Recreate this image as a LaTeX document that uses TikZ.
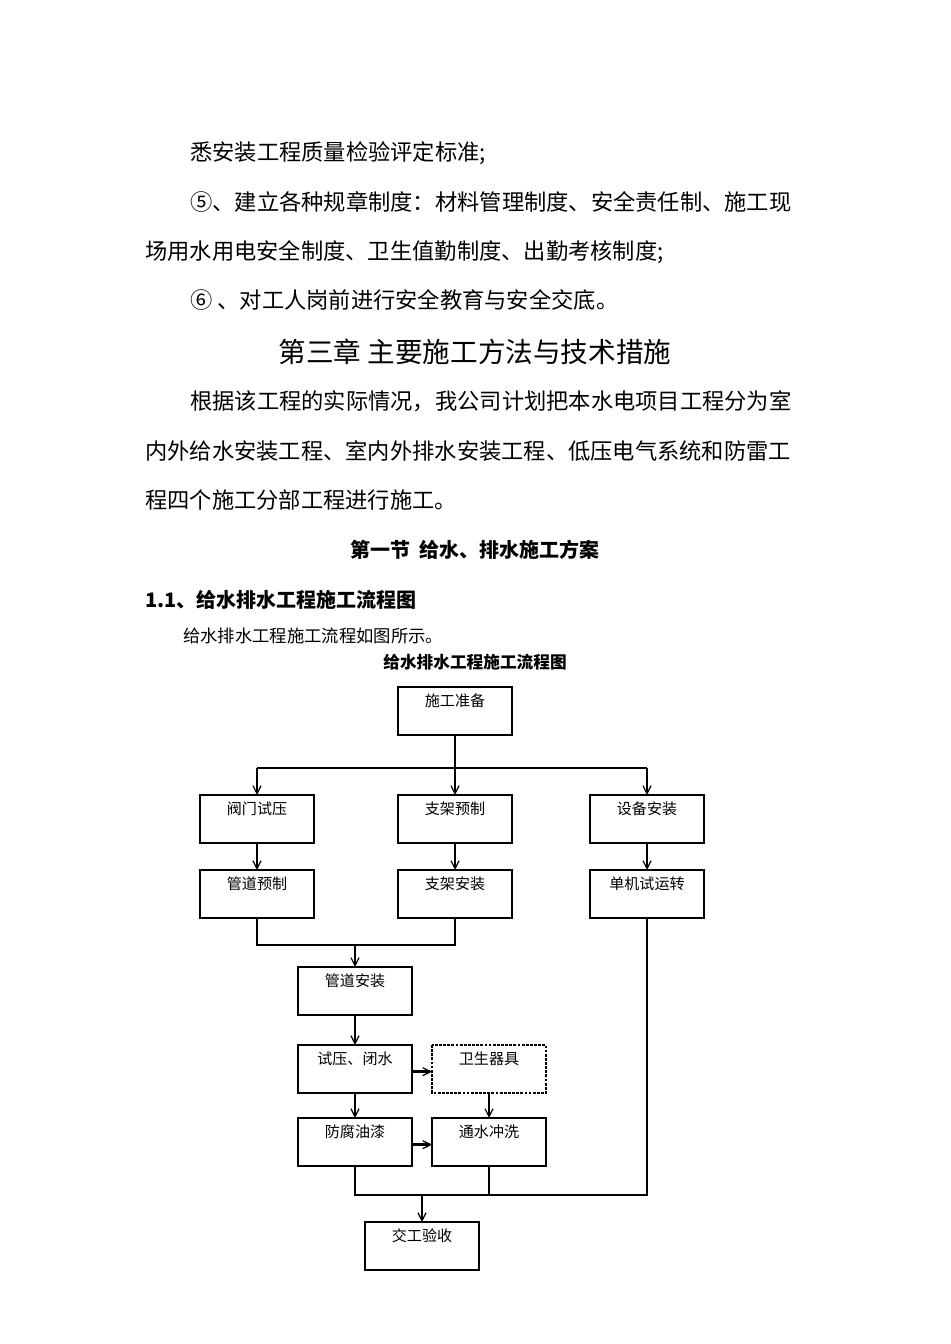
\documentclass[tikz,border=0pt]{standalone}
\usepackage{fontspec}
\newfontfamily\cjk{Noto Sans CJK SC}
\usetikzlibrary{arrows.meta}
\begin{document}
\begin{tikzpicture}[x=0.75pt,y=-0.75pt,
  body/.style={anchor=west,inner sep=0pt,font=\cjk\fontsize{16.7}{18}\selectfont},
  ln/.style={line width=2.1pt},
  ar/.style={line width=2.1pt,-{Straight Barb[length=6pt,width=6pt,line width=0.9pt]}}]
\useasboundingbox (0,0) rectangle (950,1344);
\fill[white] (0,0) rectangle (950,1344);
\node[body] (t1) at (190,153) {悉安装工程质量检验评定标准;};
\node[body] (t2) at (190,202) {⑤、建立各种规章制度：材料管理制度、安全责任制、施工现};
\node[body] (t3) at (145,252) {场用水用电安全制度、卫生值勤制度、出勤考核制度;};
\node[body] (t4) at (190,300) {⑥ 、对工人岗前进行安全教育与安全交底。};
\node[inner sep=0pt,font=\cjk\fontsize{20.7}{22}\selectfont] (h1) at (475,352) {第三章 主要施工方法与技术措施};
\node[body] (t5) at (190,401) {根据该工程的实际情况，我公司计划把本水电项目工程分为室};
\node[body] (t6) at (145,451) {内外给水安装工程、室内外排水安装工程、低压电气系统和防雷工};
\node[body] (t7) at (145,500) {程四个施工分部工程进行施工。};
\node[inner sep=0pt,font=\cjk\bfseries\fontsize{15}{17}\selectfont] (h2) at (475,550) {第一节\ \ 给水、排水施工方案};
\node[anchor=west,inner sep=0pt,font=\cjk\bfseries\fontsize{15}{17}\selectfont] (h3) at (145,600) {1.1、给水排水工程施工流程图};
\node[anchor=west,inner sep=0pt,font=\cjk\fontsize{13}{15}\selectfont] (t8) at (183,636) {给水排水工程施工流程如图所示。};
\node[inner sep=0pt,font=\cjk\bfseries\fontsize{12.5}{14}\selectfont] (h4) at (475,662) {给水排水工程施工流程图};
\tikzset{lab/.style={font=\cjk\fontsize{11.3}{13}\selectfont,inner sep=0pt}}
\def\bx#1#2#3#4#5{\draw[line width=2.1pt#5] (#2-57,#3-24) rectangle (#2+57,#3+24);
  \node[lab] (#1) at (#2,#3) {}; \node[lab] at (#2,#3-10) {#4};
  \coordinate (#1t) at (#2,#3-24); \coordinate (#1b) at (#2,#3+24);
  \coordinate (#1l) at (#2-57,#3); \coordinate (#1r) at (#2+57,#3);}
\bx{a}{455}{711}{施工准备}{}
\bx{b1}{257}{819}{阀门试压}{}
\bx{b2}{455}{819}{支架预制}{}
\bx{b3}{647}{819}{设备安装}{}
\bx{c1}{257}{894}{管道预制}{}
\bx{c2}{455}{894}{支架安装}{}
\bx{c3}{647}{894}{单机试运转}{}
\bx{d}{355}{991}{管道安装}{}
\bx{e1}{355}{1069}{试压、闭水}{}
\bx{e2}{489}{1069}{卫生器具}{,densely dotted}
\bx{f1}{355}{1142}{防腐油漆}{}
\bx{f2}{489}{1142}{通水冲洗}{}
\bx{g}{422}{1246}{交工验收}{}
\draw[ln] (ab) -- (455,768);
\draw[ln] (257,768) -- (647,768);
\draw[ar] (257,768) -- (b1t);
\draw[ar] (455,768) -- (b2t);
\draw[ar] (647,768) -- (b3t);
\draw[ar] (b1b) -- (c1t);
\draw[ar] (b2b) -- (c2t);
\draw[ar] (b3b) -- (c3t);
\draw[ln] (c1b) -- (257,945) -- (455,945) -- (c2b);
\draw[ar] (355,945) -- (dt);
\draw[ar] (db) -- (e1t);
\draw[ar] (e1b) -- (f1t);
\draw[ar] (e2b) -- (f2t);
\draw[ar] ([yshift=-2]e1r) -- ([yshift=-2]e2l);
\draw[ar] ([yshift=-2]f1r) -- ([yshift=-2]f2l);
\draw[ln] (f1b) -- (355,1195) -- (647,1195) -- (c3b);
\draw[ln] (f2b) -- (489,1195);
\draw[ar] (422,1195) -- (gt);
\end{tikzpicture}
\end{document}
